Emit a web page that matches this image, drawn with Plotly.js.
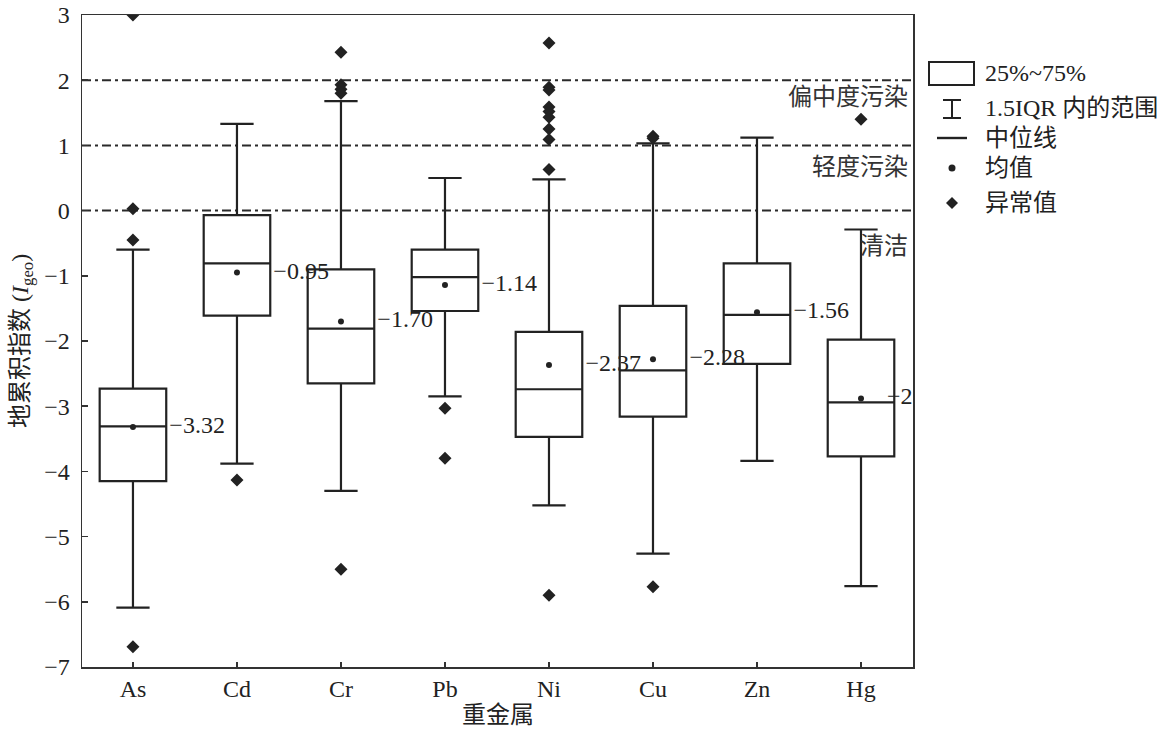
<!DOCTYPE html>
<html>
<head>
<meta charset="utf-8">
<script src="https://cdn.plot.ly/plotly-3.0.1.min.js"></script>
<style>html,body{margin:0;padding:0;background:#fff;}</style>
</head>
<body>
<div id="chart" style="width:1161px;height:730px;"></div>
<script>
// ---- data ----
const metals = ['As', 'Cd', 'Cr', 'Pb', 'Ni', 'Cu', 'Zn', 'Hg'];
const q1 = [-4.15, -1.61, -2.65, -1.54, -3.47, -3.16, -2.35, -3.77];
const medians = [-3.31, -0.81, -1.81, -1.02, -2.74, -2.45, -1.60, -2.94];
const q3 = [-2.73, -0.07, -0.90, -0.60, -1.86, -1.46, -0.81, -1.98];
const lowerWhisker = [-6.09, -3.88, -4.30, -2.85, -4.52, -5.26, -3.84, -5.76];
const upperWhisker = [-0.60, 1.33, 1.68, 0.50, 0.48, 1.03, 1.12, -0.29];
const means = [-3.32, -0.95, -1.70, -1.14, -2.37, -2.28, -1.56, -2.88];
const outliers = [
  [3.0, 0.03, -0.45, -6.69],
  [-4.13],
  [2.43, 1.93, 1.86, 1.80, -5.50],
  [-3.03, -3.80],
  [2.57, 1.89, 1.85, 1.59, 1.52, 1.43, 1.25, 1.09, 0.63, -5.90],
  [1.14, 1.11, -5.77],
  [],
  [1.40]
];
const thresholds = [0, 1, 2];
const thresholdLabels = ['清洁', '轻度污染', '偏中度污染'];
const legendLabels = ['25%~75%', '1.5IQR 内的范围', '中位线', '均值', '异常值'];
const xTitle = '重金属';
const yTitle = '地累积指数 (<i>I</i><sub>geo</sub>)';

// ---- styling ----
const FONT = 'Liberation Serif, Times New Roman, Noto Sans CJK SC, serif';
const INK = '#222';
const FS = 24;
const pos = metals.map((_, i) => i);
const labelDx = [0.35, 0.35, 0.35, 0.35, 0.35, 0.35, 0.35, 0.25];

const fmt = v => (v < 0 ? '\u2212' : '') + Math.abs(v).toFixed(2);

const outX = [], outY = [];
outliers.forEach((arr, i) => arr.forEach(v => { outX.push(i); outY.push(v); }));

const traces = [
  {
    type: 'box',
    x: pos,
    q1: q1, median: medians, q3: q3,
    lowerfence: lowerWhisker, upperfence: upperWhisker,
    boxpoints: false,
    width: 0.64,
    whiskerwidth: 0.5,
    line: {color: INK, width: 2.2},
    fillcolor: 'rgba(0,0,0,0)',
    hoverinfo: 'skip',
    showlegend: false
  },
  {
    type: 'scatter', mode: 'markers',
    x: pos, y: means,
    marker: {symbol: 'circle', size: 6, color: INK},
    hoverinfo: 'skip', showlegend: false, cliponaxis: true
  },
  {
    type: 'scatter', mode: 'markers',
    x: outX, y: outY,
    marker: {symbol: 'diamond', size: 10, color: INK},
    hoverinfo: 'skip', showlegend: false, cliponaxis: true
  },
  {
    type: 'scatter', mode: 'text',
    x: pos.map((p, i) => p + labelDx[i]), y: means,
    text: means.map(fmt),
    textposition: 'middle right',
    textfont: {family: FONT, size: FS, color: INK},
    hoverinfo: 'skip', showlegend: false, cliponaxis: true
  }
];

// paper coordinate helpers (plot area: x 82..913, y 15..667)
const PX = px => (px - 82) / 831;
const PY = py => (667 - py) / 652;

const shapes = thresholds.map(t => ({
  type: 'line', xref: 'paper', yref: 'y', x0: 0, x1: 1, y0: t, y1: t,
  line: {color: '#2a2a2a', width: 2, dash: '9px,4px,3px,4px'},
  layer: 'below'
}));

// legend symbols
shapes.push({type: 'rect', xref: 'paper', yref: 'paper',
  x0: PX(929), x1: PX(974), y0: PY(85), y1: PY(62),
  line: {color: INK, width: 2}, fillcolor: 'rgba(0,0,0,0)'});
shapes.push({type: 'line', xref: 'paper', yref: 'paper',
  x0: PX(952), x1: PX(952), y0: PY(100), y1: PY(118), line: {color: INK, width: 2}});
shapes.push({type: 'line', xref: 'paper', yref: 'paper',
  x0: PX(943), x1: PX(961), y0: PY(100), y1: PY(100), line: {color: INK, width: 2}});
shapes.push({type: 'line', xref: 'paper', yref: 'paper',
  x0: PX(943), x1: PX(961), y0: PY(118), y1: PY(118), line: {color: INK, width: 2}});
shapes.push({type: 'line', xref: 'paper', yref: 'paper',
  x0: PX(937), x1: PX(967), y0: PY(138), y1: PY(138), line: {color: INK, width: 2.4}});
shapes.push({type: 'circle', xref: 'paper', yref: 'paper',
  x0: PX(948.5), x1: PX(955.5), y0: PY(171.5), y1: PY(164.5), line: {color: INK, width: 0}, fillcolor: INK});
shapes.push({type: 'path', xref: 'paper', yref: 'paper',
  path: `M ${PX(946)} ${PY(203)} L ${PX(952)} ${PY(197)} L ${PX(958)} ${PY(203)} L ${PX(952)} ${PY(209)} Z`,
  line: {color: INK, width: 0}, fillcolor: INK});

const legendY = [73, 108, 138, 168, 203];
const annotations = legendLabels.map((t, i) => ({
  xref: 'paper', yref: 'paper', x: PX(983), y: PY(legendY[i]),
  xanchor: 'left', yanchor: 'middle', showarrow: false, text: t,
  font: {family: FONT, size: FS, color: INK}
}));

const labelY = [-0.55, 0.67, 1.75];
thresholdLabels.forEach((t, i) => annotations.push({
  xref: 'paper', yref: 'y', x: PX(910), y: labelY[i],
  xanchor: 'right', yanchor: 'middle', showarrow: false, text: t,
  font: {family: FONT, size: FS, color: '#333'}
}));

annotations.push({
  xref: 'paper', yref: 'paper', x: 0.5, y: PY(715),
  xanchor: 'center', yanchor: 'middle', showarrow: false, text: xTitle,
  font: {family: FONT, size: FS, color: INK}
});
annotations.push({
  xref: 'paper', yref: 'paper', x: PX(22), y: 0.5, textangle: -90,
  xanchor: 'center', yanchor: 'middle', showarrow: false, text: yTitle,
  font: {family: FONT, size: FS, color: INK}
});

const axisCommon = {
  showline: true, linecolor: '#333', linewidth: 1.5, mirror: true,
  ticks: 'inside', tickcolor: '#333', tickwidth: 1.5,
  showgrid: false, zeroline: false,
  tickfont: {family: FONT, size: FS, color: INK}
};

const layout = {
  width: 1161, height: 730,
  margin: {l: 82, r: 248, t: 15, b: 63, pad: 0},
  paper_bgcolor: '#fff', plot_bgcolor: '#fff',
  showlegend: false,
  xaxis: Object.assign({}, axisCommon, {
    range: [-0.49, 7.5], tickvals: pos, ticktext: metals, ticklen: 5
  }),
  yaxis: Object.assign({}, axisCommon, {
    range: [-7, 3], tick0: 0, dtick: 1, ticklen: 6, ticklabelstandoff: 6
  }),
  shapes: shapes,
  annotations: annotations
};

Plotly.newPlot('chart', traces, layout, {displayModeBar: false, staticPlot: true});
</script>
</body>
</html>
